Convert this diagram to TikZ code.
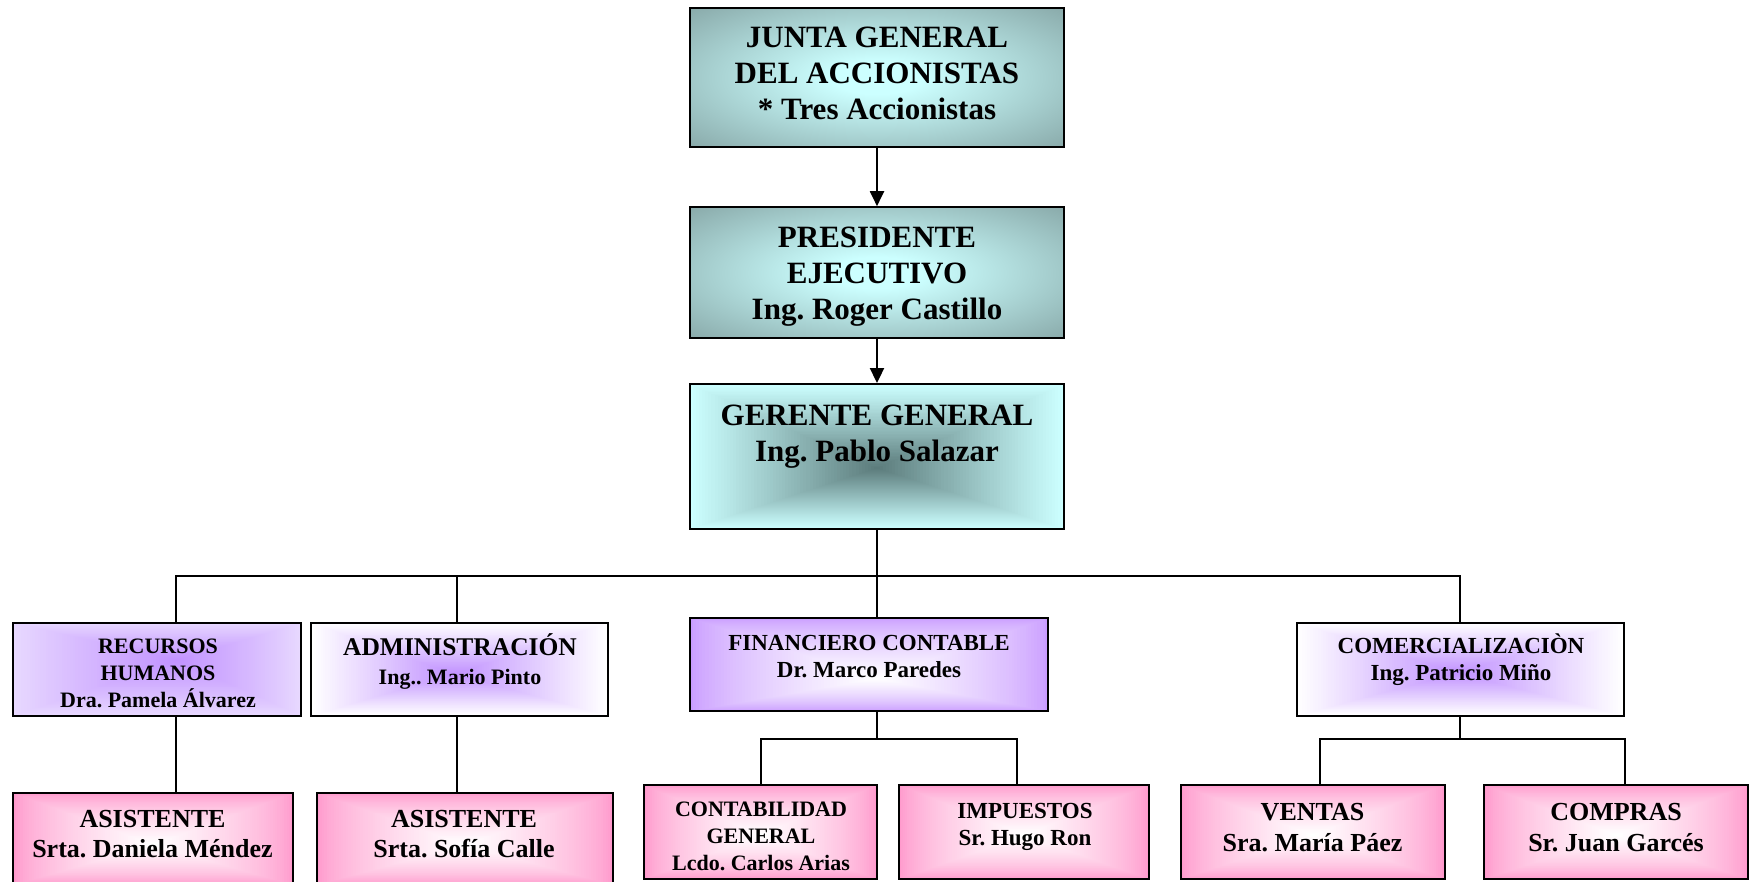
\documentclass[tikz,border=0pt]{standalone}
\usepackage{fontspec}
\setmainfont{Liberation Serif}
\usetikzlibrary{arrows.meta}
\frenchspacing

% palette
\definecolor{cyanpale}{HTML}{CCFFFF}
\definecolor{tealgrey}{HTML}{7F9D9D}
\definecolor{tealdark}{HTML}{5C7C7C}
\definecolor{rosepink}{HTML}{FF99CC}
\definecolor{lavender}{HTML}{C99CFF}
\definecolor{violetmid}{HTML}{C293FF}
\definecolor{lilacpale}{HTML}{E8D9FF}

% soft oval glow for the two top boxes
\pgfdeclareradialshading{shTeal}{\pgfpoint{0bp}{0bp}}{color(0bp)=(cyanpale); color(6bp)=(cyanpale); color(40bp)=(tealgrey); color(90bp)=(tealgrey)}

% rectangular "from a point" gradient filling a box:
% #1,#2 centre, #3,#4 width/height, #5,#6 focus offset, #7 outer colour, #8 focus colour, #9 exponent
\newcommand{\boxglow}[9]{%
  \fill[#7] ({#1-#3/2},{#2-#4/2}) rectangle ({#1+#3/2},{#2+#4/2});
  \foreach \s in {1,...,60}{%
    \pgfmathsetmacro{\kk}{1-\s/61}%
    \pgfmathsetmacro{\mm}{100*(\s/60)^#9}%
    \fill[#8!\mm!#7] ({#1+#5+(-#3/2-#5)*\kk},{#2+#6+(-#4/2-#6)*\kk})
       rectangle ({#1+#5+(#3/2-#5)*\kk},{#2+#6+(#4/2-#6)*\kk});
  }}

\tikzset{
  box/.style={draw=black, line width=2pt, rectangle, inner sep=0pt},
  conn/.style={line width=2pt, draw=black},
  arr/.style={conn, -{Triangle[length=15pt,width=14pt]}},
  lbl/.style={align=center, inner sep=0pt},
}
\newcommand{\fz}[2]{\bfseries\fontsize{#1}{#2}\selectfont}

\begin{document}
\begin{tikzpicture}[x=1pt,y=-1pt]
\useasboundingbox (0,0) rectangle (1756,882);

% gradient fills
\boxglow{877}{456.3}{374}{144.5}{0}{12}{cyanpale}{tealdark}{1.05}
\boxglow{157.4}{669.2}{288}{93}{20}{-9}{lilacpale}{violetmid}{0.9}
\boxglow{459.8}{669.2}{297}{93}{-6}{5}{white}{violetmid}{1.0}
\boxglow{869.2}{664.7}{358}{93}{7}{14}{lavender}{white}{0.7}
\boxglow{1460.4}{669.2}{327}{93}{-3}{4}{white}{violetmid}{1.0}
\boxglow{153.4}{839}{280}{92}{0}{6}{rosepink}{white}{0.7}
\boxglow{464.8}{839}{296}{92}{0}{6}{rosepink}{white}{0.7}
\boxglow{760.5}{832.2}{233}{94}{0}{3}{rosepink}{white}{0.7}
\boxglow{1024.2}{832.2}{250}{94}{0}{3}{rosepink}{white}{0.7}
\boxglow{1312.6}{832.2}{264}{94}{0}{3}{rosepink}{white}{0.7}
\boxglow{1616.2}{832.2}{264}{94}{0}{3}{rosepink}{white}{0.7}

% top chain
\node[box, shading=shTeal, minimum width=374pt, minimum height=139pt] (junta) at (877,77.5) {};
\node[box, shading=shTeal, minimum width=374pt, minimum height=131pt] (pres) at (877,272.7) {};
\node[box, minimum width=374pt, minimum height=144.5pt] (ger) at (877,456.3) {};

% departments
\node[box, minimum width=288pt, minimum height=93pt] (rh) at (157.4,669.2) {};
\node[box, minimum width=297pt, minimum height=93pt] (adm) at (459.8,669.2) {};
\node[box, minimum width=358pt, minimum height=93pt] (fin) at (869.2,664.7) {};
\node[box, minimum width=327pt, minimum height=93pt] (com) at (1460.4,669.2) {};

% sections
\node[box, minimum width=280pt, minimum height=92pt] (asis1) at (153.4,839) {};
\node[box, minimum width=296pt, minimum height=92pt] (asis2) at (464.8,839) {};
\node[box, minimum width=233pt, minimum height=94pt] (cont) at (760.5,832.2) {};
\node[box, minimum width=250pt, minimum height=94pt] (imp) at (1024.2,832.2) {};
\node[box, minimum width=264pt, minimum height=94pt] (vent) at (1312.6,832.2) {};
\node[box, minimum width=264pt, minimum height=94pt] (comp) at (1616.2,832.2) {};

% labels
\node[lbl, font=\fz{31}{36}] (juntaT) at (877,73) {JUNTA GENERAL\\DEL ACCIONISTAS\\* Tres Accionistas};
\node[lbl, font=\fz{31}{36}] (presT) at (877,276.5) {PRESIDENTE\\EJECUTIVO\\Ing. Roger Castillo};
\node[lbl, font=\fz{31}{36}] (gerT) at (877,436.5) {GERENTE GENERAL\\Ing. Pablo Salazar};
\node[lbl, font=\fz{22}{27}] (rhT) at (158,673) {RECURSOS\\HUMANOS\\Dra. Pamela Álvarez};
\node[lbl, font=\fz{22}{29}] (admT) at (460,661.5) {{\fontsize{25.5}{29}\selectfont ADMINISTRACIÓN}\\Ing.. Mario Pinto};
\node[lbl, font=\fz{23}{27}] (finT) at (869,656.5) {FINANCIERO CONTABLE\\Dr. Marco Paredes};
\node[lbl, font=\fz{23}{27}] (comT) at (1461,659.5) {COMERCIALIZACIÒN\\Ing. Patricio Miño};
\node[lbl, font=\fz{26}{30}] (asis1T) at (152.5,834) {ASISTENTE\\Srta. Daniela Méndez};
\node[lbl, font=\fz{26}{30}] (asis2T) at (464,834) {ASISTENTE\\Srta. Sofía Calle};
\node[lbl, font=\fz{22}{27}] (contT) at (761,836.5) {CONTABILIDAD\\GENERAL\\Lcdo. Carlos Arias};
\node[lbl, font=\fz{23}{27}] (impT) at (1025,826.5) {IMPUESTOS\\Sr. Hugo Ron};
\node[lbl, font=\fz{26}{31}] (ventT) at (1312.5,827.5) {VENTAS\\Sra. María Páez};
\node[lbl, font=\fz{26}{31}] (compT) at (1616,827.5) {COMPRAS\\Sr. Juan Garcés};

% connectors
\coordinate (bus) at (0,575.6);
\coordinate (subbus) at (0,739);
\draw[arr] (junta) -- (pres);
\draw[arr] (pres) -- (ger);
\draw[conn] (ger.south) -- (ger.south |- fin.north);
\draw[conn] ([xshift=18.6pt]rh.north) |- (com.north |- bus) -- (com.north);
\draw[conn] ([xshift=-3.2pt]adm.north) -- ([xshift=-3.2pt]adm.north |- bus);
\draw[conn] ([xshift=18.6pt]rh.south) -- ([xshift=18.6pt]rh.south |- asis1.north);
\draw[conn] ([xshift=-3.2pt]adm.south) -- ([xshift=-3.2pt]adm.south |- asis2.north);
\draw[conn] (ger.south |- fin.south) -- (ger.south |- subbus);
\draw[conn] (cont.north) |- ([xshift=-7pt]imp.north |- subbus) -- ([xshift=-7pt]imp.north);
\draw[conn] (com.south) -- (com.south |- subbus);
\draw[conn] ([xshift=7.8pt]vent.north) |- (com.south east |- subbus) -- (com.south east |- comp.north);
\end{tikzpicture}
\end{document}
